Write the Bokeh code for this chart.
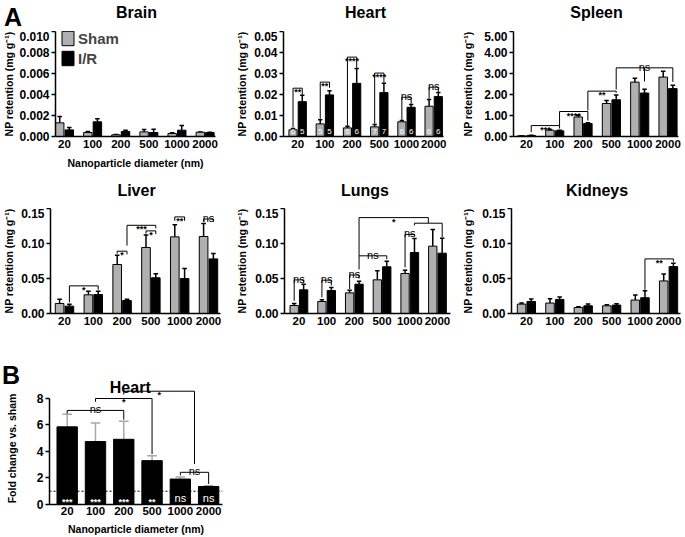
import math
from bokeh.plotting import figure
from bokeh.models import Range1d, FixedTicker, NumeralTickFormatter, Label, Span, Legend, LegendItem
from bokeh.layouts import column, row
from bokeh.embed import file_html
from bokeh.resources import INLINE
from bokeh.core.properties import value

FONT = "Liberation Sans"
SHAM_COLOR = "#b0b0b0"

# ---------------- data ----------------
sizes = ["20", "100", "200", "500", "1000", "2000"]
groups = [0, 1, 2, 3, 4, 5]

brain_sham = [0.0013, 0.00038, 0.00016, 0.00044, 0.00029, 0.00041]
brain_sham_sem = [0.0006, 0.0001, 0.00004, 0.00023, 0.00006, 0.00002]
brain_ir = [0.00063, 0.0014, 0.00048, 0.00038, 0.0006, 0.00038]
brain_ir_sem = [0.00023, 0.0003, 0.00012, 0.0003, 0.00045, 0.00003]

heart_sham = [0.0032, 0.0060, 0.0041, 0.0046, 0.0070, 0.0144]
heart_sham_sem = [0.0006, 0.0020, 0.0008, 0.0011, 0.0006, 0.0032]
heart_ir = [0.0166, 0.0198, 0.0253, 0.0209, 0.0139, 0.0190]
heart_ir_sem = [0.0030, 0.0020, 0.0071, 0.0044, 0.0013, 0.0019]
heart_n_sham = [6, 5, 6, 7, 6, 6]
heart_n_ir = [5, 5, 6, 7, 6, 6]

spleen_sham = [0.03, 0.30, 0.93, 1.57, 2.59, 2.83]
spleen_sham_sem = [0.01, 0.03, 0.08, 0.15, 0.18, 0.28]
spleen_ir = [0.05, 0.27, 0.62, 1.75, 2.07, 2.28]
spleen_ir_sem = [0.01, 0.03, 0.04, 0.23, 0.18, 0.16]

liver_sham = [0.0143, 0.0267, 0.070, 0.0943, 0.1095, 0.110]
liver_sham_sem = [0.0062, 0.0052, 0.0133, 0.0177, 0.0172, 0.0186]
liver_ir = [0.0105, 0.0271, 0.0186, 0.051, 0.050, 0.078]
liver_ir_sem = [0.0028, 0.0048, 0.0019, 0.0057, 0.0143, 0.0077]

lungs_sham = [0.0114, 0.0171, 0.0295, 0.0481, 0.0571, 0.0962]
lungs_sham_sem = [0.0029, 0.0024, 0.0038, 0.0129, 0.0048, 0.0238]
lungs_ir = [0.0338, 0.0329, 0.0419, 0.0667, 0.0871, 0.0862]
lungs_ir_sem = [0.0081, 0.0042, 0.0043, 0.0081, 0.0199, 0.0214]

kidneys_sham = [0.0134, 0.0149, 0.0086, 0.011, 0.0192, 0.0465]
kidneys_sham_sem = [0.0015, 0.0062, 0.0010, 0.0015, 0.0072, 0.0100]
kidneys_ir = [0.0172, 0.0201, 0.011, 0.012, 0.0225, 0.067]
kidneys_ir_sem = [0.0034, 0.0034, 0.0024, 0.0019, 0.0101, 0.0049]

fold_change = [5.86, 4.75, 4.92, 3.31, 1.92, 1.36]
fold_change_sem = [0.96, 1.41, 1.37, 0.36, 0.15, 0.05]
fold_sig = ["***", "***", "***", "**", "ns", "ns"]

brain_yticks = [0, 0.002, 0.004, 0.006, 0.008, 0.010]
heart_yticks = [0, 0.01, 0.02, 0.03, 0.04, 0.05]
spleen_yticks = [0, 1, 2, 3, 4, 5]
row2_yticks = [0, 0.05, 0.10, 0.15]
fold_yticks = [0, 2, 4, 6, 8]

panel_titles_row1 = ["Brain", "Heart", "Spleen"]
panel_titles_row2 = ["Liver", "Lungs", "Kidneys"]

D = 0.17   # half distance between paired bars
BW = 0.30  # bar width


def S(i):
    return i - D


def R(i):
    return i + D


# significance brackets: (leg x positions, leg bottoms, top, label)
heart_br = [
    ([S(0), R(0)], [0.0044, 0.0199], 0.0230, "**"),
    ([S(1), R(1)], [0.0084, 0.0232], 0.0259, "**"),
    ([S(2), R(2)], [0.0052, 0.0328], 0.0378, "****"),
    ([S(3), R(3)], [0.0061, 0.0257], 0.0302, "****"),
    ([S(4), R(4)], [0.0080, 0.0156], 0.0187, "ns"),
    ([S(5), R(5)], [0.0180, 0.0213], 0.0235, "ns"),
]
spleen_br = [
    ([R(0), R(1)], [0.20, 0.38], 0.52, "***"),
    ([R(1), R(2)], [0.52, 0.76], 1.19, "****"),
    ([R(2), R(3)], [1.24, 2.08], 2.16, "**"),
    ([R(3), R(4), R(5)], [2.24, 2.62, 2.60], 3.27, "ns"),
]
liver_br = [
    ([R(0), R(1)], [0.016, 0.034], 0.0395, "*"),
    ([S(2), R(2)], [0.0855, 0.0845], 0.089, "*"),
    ([R(2), R(3)], [0.097, 0.1215], 0.126, "***"),
    ([S(3), R(3)], [0.1140, 0.1135], 0.118, "*"),
    ([S(4), R(4)], [0.1325, 0.1325], 0.138, "**"),
    ([S(5), R(5)], [0.1310, 0.1310], 0.135, "ns"),
]
lungs_br = [
    ([S(0), R(0)], [0.018, 0.044], 0.048, "ns"),
    ([S(1), R(1)], [0.023, 0.040], 0.0476, "ns"),
    ([S(2), R(2)], [0.035, 0.050], 0.055, "ns"),
    ([R(2), R(3)], [0.063, 0.0776], 0.0824, "ns"),
    ([S(4), R(4)], [0.066, 0.110], 0.113, "ns"),
    ([R(4), R(5)], [0.126, 0.109], 0.129, ""),
    ([R(2), (R(4) + R(5)) / 2], [0.0824, 0.129], 0.137, "*"),
]
kidneys_br = [
    ([R(4), R(5)], [0.034, 0.074], 0.078, "**"),
]
fold_br = [
    ([0, 2], [6.85, 6.40], 7.1, "ns"),
    ([1, 3], [7.75, 3.80], 8.0, "*"),
    ([2.0, 4.5], [8.30, 3.05], 8.55, "*"),
    ([4, 5], [2.20, 1.55], 2.43, "ns"),
]


def style_axes(p, yticks, yfmt, ylabel, label_standoff=1):
    xa = p.xaxis[0]
    ya = p.yaxis[0]
    xa.ticker = FixedTicker(ticks=groups)
    xa.major_label_overrides = {g: s for g, s in zip(groups, sizes)}
    ya.ticker = FixedTicker(ticks=yticks)
    ya.formatter = NumeralTickFormatter(format=yfmt)
    for ax in (xa, ya):
        ax.axis_line_width = 1.5
        ax.axis_line_color = "black"
        ax.major_tick_line_width = 1.5
        ax.major_tick_line_color = "black"
        ax.minor_tick_line_color = None
        ax.major_label_text_font = FONT
        ax.major_label_text_font_style = "bold"
        ax.major_label_text_color = "black"
        ax.axis_label_text_font = FONT
        ax.axis_label_text_font_style = "bold"
        ax.axis_label_text_font_size = "10.5px"
        ax.axis_label_text_color = "black"
    xa.major_label_text_font_size = "11.5px"
    ya.major_label_text_font_size = "12px"
    xa.major_tick_out = 0
    xa.major_tick_in = 0
    xa.major_label_standoff = 3
    ya.major_tick_out = 4
    ya.major_tick_in = 0
    ya.major_label_standoff = 2
    if ylabel:
        ya.axis_label = ylabel
        ya.axis_label_standoff = label_standoff
    ya.bounds = (yticks[0], yticks[-1])


def make_fig(w, h, bl, br, bt, bb, xr, yr):
    p = figure(width=w, height=h, x_range=Range1d(*xr), y_range=Range1d(*yr),
               output_backend="svg", toolbar_location=None,
               min_border_left=bl, min_border_right=br,
               min_border_top=bt, min_border_bottom=bb)
    p.xgrid.visible = False
    p.ygrid.visible = False
    p.outline_line_color = None
    p.background_fill_color = "white"
    p.border_fill_color = "white"
    return p


def text_strip(x0, x1, y0, y1, bt=0, bb=0):
    """A text-only figure whose ranges are page pixels (y downwards); frame spans y0..y1."""
    h = figure(width=x1 - x0, height=y1 - y0 + bt + bb, x_range=Range1d(x0, x1), y_range=Range1d(y1, y0),
               output_backend="svg", toolbar_location=None, x_axis_location=None,
               y_axis_location=None, min_border=0)
    h.min_border_left = h.min_border_right = 0
    h.min_border_top = bt
    h.min_border_bottom = bb
    h.grid.visible = False
    h.outline_line_color = None
    return h


def stext(h, x, y, t, size, angle=0.0):
    h.text(x=[x], y=[y], text=[t], text_align="center", text_baseline="middle", angle=angle,
           text_font=value(FONT), text_font_size=size, text_font_style="bold", text_color="black")


def err_bars(p, xs, m, e, color="black", cap=0.08, width=1.5):
    up = [a + b for a, b in zip(m, e)]
    p.segment(x0=xs, y0=m, x1=xs, y1=up, line_color=color, line_width=width)
    p.segment(x0=[x - cap for x in xs], y0=up, x1=[x + cap for x in xs], y1=up,
              line_color=color, line_width=width)


def paired_bars(p, sham, sham_sem, ir, ir_sem):
    xs = [S(g) for g in groups]
    xi = [R(g) for g in groups]
    err_bars(p, xs, sham, sham_sem)
    err_bars(p, xi, ir, ir_sem)
    rs = p.vbar(x=xs, top=sham, width=BW, fill_color=SHAM_COLOR, line_color="black", line_width=1)
    ri = p.vbar(x=xi, top=ir, width=BW, fill_color="black", line_color="black", line_width=1)
    return rs, ri


def brackets(p, specs, star_size="9px", ns_size="11px"):
    for legs, bottoms, top, lab in specs:
        xs = [[min(legs), max(legs)]]
        ys = [[top, top]]
        for x, b in zip(legs, bottoms):
            xs.append([x, x])
            ys.append([top, b])
        p.multi_line(xs=xs, ys=ys, line_color="black", line_width=1)
        if lab:
            lx = (legs[0] + legs[-1]) / 2 if len(legs) != 3 else legs[1]
            is_ns = lab == "ns"
            p.text(x=[lx], y=[top], text=[lab], text_align="center", text_baseline="alphabetic",
                   y_offset=-1 if is_ns else 4,
                   text_font=value(FONT), text_font_size=ns_size if is_ns else star_size,
                   text_font_style="normal" if is_ns else "bold", text_color="black")


YL = "NP retention (mg g\u207b\u00b9)"

# ---------------- header 1 (page y 0..31) ----------------
hdr1 = text_strip(0, 685, 0, 31)
stext(hdr1, 12.5, 16, "A", "25px")
for x, t in zip([136, 365, 596], panel_titles_row1):
    stext(hdr1, x, 12, t, "16px")

# ---------------- row 1 (page y 31..175) ----------------
H1, BB1 = 144, 39
brain = make_fig(233, H1, 55, 18, 0, BB1, (-0.32, 5.37), (0, 0.010))
style_axes(brain, brain_yticks, "0.000", YL, 1)
brain.xaxis[0].axis_label = "Nanoparticle diameter (nm)"
brain.xaxis[0].axis_label_standoff = 6
rs, ri = paired_bars(brain, brain_sham, brain_sham_sem, brain_ir, brain_ir_sem)
leg = Legend(items=[LegendItem(label="Sham", renderers=[rs]), LegendItem(label="I/R", renderers=[ri])],
             location=(5, 68), glyph_width=15, glyph_height=18, label_height=20, spacing=0,
             padding=0, margin=0, label_standoff=3, label_text_font=FONT,
             label_text_font_size="15px", label_text_font_style="bold",
             border_line_alpha=0, background_fill_alpha=0)
brain.add_layout(leg)

heart = make_fig(226, H1, 45, 16, 0, BB1, (-0.52, 5.36), (0, 0.05))
style_axes(heart, heart_yticks, "0.00", YL, 3)
paired_bars(heart, heart_sham, heart_sham_sem, heart_ir, heart_ir_sem)
heart.text(x=[S(g) for g in groups], y=[0.0022] * 6, text=[str(n) for n in heart_n_sham],
           text_align="center", text_baseline="middle", text_font=value(FONT),
           text_font_size="8px", text_color="white")
heart.text(x=[R(g) for g in groups], y=[0.0022] * 6, text=[str(n) for n in heart_n_ir],
           text_align="center", text_baseline="middle", text_font=value(FONT),
           text_font_size="8px", text_color="white")
brackets(heart, heart_br)

spleen = make_fig(226, H1, 53, 7, 0, BB1, (-0.456, 5.37), (0, 5))
style_axes(spleen, spleen_yticks, "0.00", YL, 7)
paired_bars(spleen, spleen_sham, spleen_sham_sem, spleen_ir, spleen_ir_sem)
brackets(spleen, spleen_br)

# ---------------- header 2 (page y 175..208) ----------------
hdr2 = text_strip(0, 685, 175, 208)
for x, t in zip([136, 364.5, 596.5], panel_titles_row2):
    stext(hdr2, x, 189.5, t, "16px")

# ---------------- row 2 (page y 208..350) ----------------
H2, BB2 = 142, 37
liver = make_fig(233, H2, 50, 13, 0, BB2, (-0.486, 5.417), (0, 0.15))
style_axes(liver, row2_yticks, "0.00", YL, 3)
paired_bars(liver, liver_sham, liver_sham_sem, liver_ir, liver_ir_sem)
brackets(liver, liver_br)

lungs = make_fig(226, H2, 45, 9, 0, BB2, (-0.52, 5.47), (0, 0.15))
style_axes(lungs, row2_yticks, "0.00", YL, 4)
paired_bars(lungs, lungs_sham, lungs_sham_sem, lungs_ir, lungs_ir_sem)
brackets(lungs, lungs_br)

kidneys = make_fig(226, H2, 51, 5, 0, BB2, (-0.524, 5.42), (0, 0.15))
style_axes(kidneys, row2_yticks, "0.00", YL, 5)
paired_bars(kidneys, kidneys_sham, kidneys_sham_sem, kidneys_ir, kidneys_ir_sem)
brackets(kidneys, kidneys_br)

# ---------------- row 3 (B, page y 350..537; frames 365..504) ----------------
BT3, BB3 = 15, 33
side = text_strip(0, 33, 365, 504, BT3, BB3)
stext(side, 10.5, 374, "B", "25px")
stext(side, 11, 448, "Fold change vs. sham", "10.5px", angle=math.pi / 2)

fold = make_fig(200, 187, 13, 11, BT3, BB3, (-0.625, 5.49), (0, 10.49))
style_axes(fold, fold_yticks, "0", None)
fold.xaxis[0].major_label_standoff = 2
fold.xaxis[0].axis_label = "Nanoparticle diameter (nm)"
fold.xaxis[0].axis_label_standoff = 5
err_bars(fold, groups, fold_change, fold_change_sem, color="#a8a8a8", cap=0.17)
fold.vbar(x=groups, top=fold_change, width=0.72, fill_color="black", line_color="black")
fold.add_layout(Span(location=1, dimension="width", line_color="black", line_width=1, line_dash="2 2"))
for g, t in zip(groups, fold_sig):
    is_ns = t == "ns"
    fold.text(x=[g], y=[0.5], text=[t], text_align="center",
              text_baseline="middle" if is_ns else "alphabetic", y_offset=0 if is_ns else 4,
              text_font=value(FONT), text_font_size="11px" if is_ns else "9px",
              text_font_style="normal" if is_ns else "bold", text_color="white")
brackets(fold, fold_br)
fold.add_layout(Label(x=2.23, y=8.83, text="Heart", text_align="center", text_baseline="middle",
                      text_font=FONT, text_font_size="16px", text_font_style="bold", text_color="black"))

layout = column(hdr1, row(brain, heart, spleen), hdr2, row(liver, lungs, kidneys), row(side, fold))
open("out.html", "w").write(file_html(layout, INLINE))
